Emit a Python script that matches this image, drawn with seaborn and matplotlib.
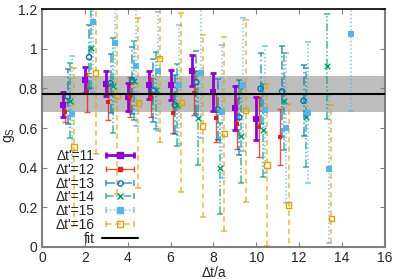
import numpy as np
import pandas as pd
import matplotlib
matplotlib.use("Agg")
import matplotlib.pyplot as plt
from matplotlib.lines import Line2D
from matplotlib.legend_handler import HandlerLine2D, HandlerTuple
import seaborn as sns

sns.set_style("ticks")
plt.rcParams['font.family'] = ['Liberation Sans', 'DejaVu Sans']
plt.rcParams['mathtext.fontset'] = 'custom'
plt.rcParams['mathtext.rm'] = 'Liberation Sans'

# values
v11 = [0.718, 0.844, 0.824, 0.757, 0.819, 0.817, 0.890, 0.782, 0.701, 0.648]
e11 = [0.063, 0.065, 0.063, 0.070, 0.070, 0.075, 0.080, 0.095, 0.110, 0.107]
v12 = [0.680, 0.780, 0.730, 0.757, 0.755, 0.677, 0.777, 0.651, 0.623, 0.606, 0.554]
e12 = [0.050, 0.100, 0.090, 0.100, 0.100, 0.100, 0.110, 0.120, 0.130, 0.150, 0.140]
v13 = [0.760, 0.958, 0.826, 0.841, 0.789, 0.718, 0.831, 0.693, 0.655, 0.799, 0.785, 0.738]
e13 = [0.140, 0.160, 0.150, 0.170, 0.160, 0.150, 0.160, 0.155, 0.190, 0.180, 0.230, 0.180]
v14 = [0.738, 1.003, 0.814, 0.840, 0.790, 0.715, 0.651, 0.396, 0.559, 0.588, 0.735, 0.655, 0.911]
e14 = [0.190, 0.200, 0.240, 0.200, 0.195, 0.208, 0.235, 0.230, 0.236, 0.233, 0.245, 0.250, 0.263]
v15 = [0.673, 1.133, 1.030, 0.911, 0.886, 0.819, 0.878, 0.682, 0.819, 0.693, 0.601, 0.677, 0.393, 1.076]
e15 = [0.290, 0.350, 0.300, 0.300, 0.300, 0.300, 0.330, 0.335, 0.336, 0.320, 0.380, 0.355, 0.375, 0.390]
v16 = [0.504, 0.878, 0.765, 0.727, 0.950, 0.729, 0.611, 0.571, 0.688, 0.413, 0.212, np.nan, 0.145]
e16 = [0.400, 0.410, 0.500, 0.430, 0.420, 0.450, 0.460, 0.490, 0.460, 0.410, 0.510, np.nan, 0.570]

fit_val = 0.772
fit_err = 0.091

series = [
    (11, v11, e11, '#9400d3', 's', '-', 2.0, True),
    (12, v12, e12, '#e51e10', 's', '-', 1.0, True),
    (13, v13, e13, '#0072b2', 'o', (0, (6, 2, 1, 2)), 1.1, False),
    (14, v14, e14, '#009e73', 'x', (0, (5, 1.5, 1, 1.5, 1, 1.5)), 1.1, True),
    (15, v15, e15, '#56b4e9', 's', (0, (1, 1.5)), 1.1, True),
    (16, v16, e16, '#e69f00', 's', (0, (3.5, 2.5)), 1.1, False),
]

fig, ax = plt.subplots(figsize=(3.99, 2.79), dpi=100)
fig.subplots_adjust(left=0.105, right=0.965, top=0.967, bottom=0.115)

ax.axhspan(fit_val - fit_err, fit_val + fit_err, color='#bebebe', zorder=0, lw=0)

handles = []
hmap = {}
for k, (dt, vals, errs, c, m, ls, lw, filled) in enumerate(series):
    xs = np.arange(1, len(vals) + 1) + 0.1 * k
    df = pd.DataFrame({"x": xs, "y": vals, "e": errs}).dropna()
    alpha = 1.0 if dt == 11 else 0.75
    eb = ax.errorbar(df["x"], df["y"], yerr=df["e"], fmt='none', ecolor=c,
                     elinewidth=lw, capsize=2.5, capthick=lw, alpha=alpha, zorder=2)
    for line in eb[2]:
        line.set_linestyle(ls)
    size = 4.0 if m == 'x' else (3.2 if dt == 12 else 3.8)
    sns.scatterplot(x=df["x"], y=df["y"], color=c, marker=m, s=size ** 2,
                    linewidth=1.0 if m == 'x' else 0, ax=ax, zorder=3, legend=False)
    coll = ax.collections[-1]
    if not filled:
        coll.set_facecolor('none')
        coll.set_edgecolor(c)
        coll.set_linewidth(1.0)
    capline = Line2D([], [], color=c, lw=lw, ls=ls, marker='|', markersize=5,
                     markeredgewidth=lw, alpha=alpha)
    mk = Line2D([], [], ls='none', marker=m, color=c, markersize=size,
                markerfacecolor=c if filled else 'none', markeredgewidth=1.0)
    hmap[capline] = HandlerLine2D(numpoints=2)
    hmap[mk] = HandlerLine2D(numpoints=1)
    handles.append(((capline, mk), "\u0394t'=%d" % dt))

ax.axhline(fit_val, color='black', lw=1.5, zorder=4)
fitline = Line2D([], [], color='black', lw=1.5)
handles.append((fitline, "fit"))
hmap[tuple] = HandlerTuple(ndivide=1, pad=0)

leg = ax.legend([h for h, _ in handles], [l for _, l in handles], handler_map=hmap,
                loc='lower right', bbox_to_anchor=(0.308, -0.035), frameon=False,
                markerfirst=False, fontsize=10, labelspacing=-0.02,
                handlelength=2.6, handletextpad=0.5, borderpad=0.2)
leg.set_zorder(5)

ax.set_xlim(0, 16)
ax.set_ylim(0, 1.2)
ax.set_xticks(range(0, 17, 2))
ax.set_yticks([0, 0.2, 0.4, 0.6, 0.8, 1.0, 1.2])
ax.set_yticklabels(["0", "0.2", "0.4", "0.6", "0.8", "1", "1.2"])
ax.tick_params(direction='in', top=True, right=True, length=3.5, width=0.8,
               color='#808080', labelsize=10, pad=3)
ax.set_xlabel("\u0394t/a", fontsize=10, labelpad=1)
ax.set_ylabel("g$_\\mathregular{S}$", fontsize=10, labelpad=2)
ax.yaxis.set_label_coords(-0.072, 0.47)
for side in ['left', 'bottom', 'right']:
    ax.spines[side].set_color('#7f7f7f')
    ax.spines[side].set_linewidth(1.5)
ax.spines['top'].set_color('black')
ax.spines['top'].set_linewidth(1.2)

fig.savefig("out.png", dpi=100)
